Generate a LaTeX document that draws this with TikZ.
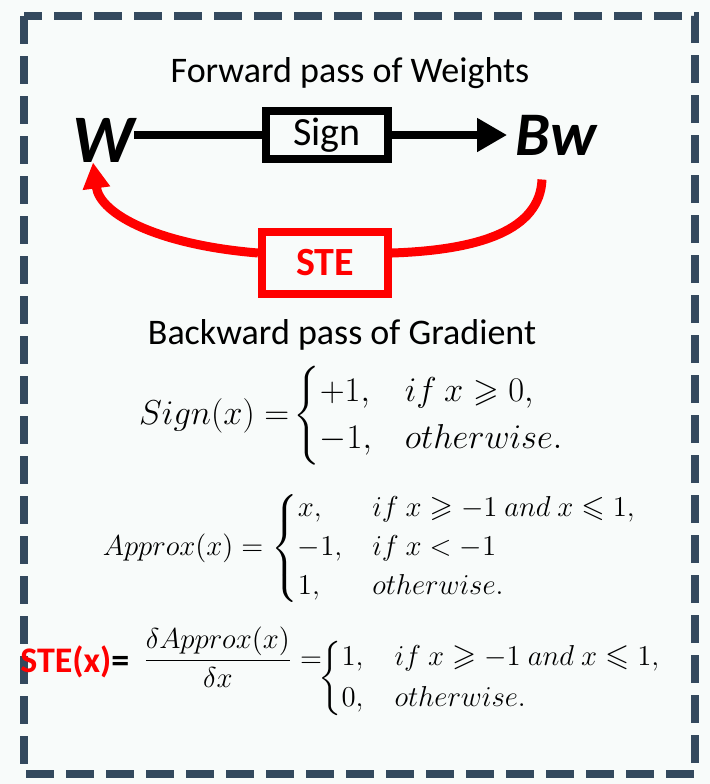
\documentclass[tikz,border=0pt]{standalone}
\usepackage{amsmath,amssymb}
\usepackage{fontspec}
\setmainfont{Carlito}
\usetikzlibrary{arrows.meta}
\definecolor{frameblue}{HTML}{34495E}
\definecolor{stered}{HTML}{FF0000}
\definecolor{paper}{HTML}{F8FBFA}
\tikzset{
  lbl/.style={font=\fontsize{18}{21}\selectfont, inner sep=1pt},
  var/.style={font=\fontsize{34}{36}\selectfont\bfseries\itshape, inner sep=0pt},
  opbox/.style={draw, line width=4pt, minimum width=61pt, minimum height=24pt, inner sep=2pt, font=\fontsize{20}{22}\selectfont},
  eq/.style={inner sep=0pt},
  fwd/.style={line width=4pt},
  bwd/.style={line width=4.5pt, stered}
}
\begin{document}
\begin{tikzpicture}[x=0.5pt,y=-0.5pt]
\fill[paper] (0,0) rectangle (710,784);
\useasboundingbox (0,0) rectangle (710,784);
\draw[frameblue, line width=4pt, dash pattern=on 14pt off 6pt] (24,16) rectangle (695,774);
\node[lbl] (fwdtitle) at (350,73) {Forward pass of Weights};
\node[var] (w) at (103,140) {W};
\node[opbox] (sign) at (327,135) {Sign};
\node[var, font=\fontsize{31}{33}\selectfont\bfseries\itshape] (bw) at (556,135) {Bw};
\node[opbox, stered, font=\fontsize{20}{22}\selectfont\bfseries, minimum width=63pt, minimum height=31pt] (ste) at (325,263) {STE};
\draw[fwd] (w.east |- sign.west) -- (sign.west);
\draw[fwd, -{Triangle[length=15pt,width=16pt]}] (sign.east) -- ([xshift=-4pt]bw.west |- sign.east);
\draw[bwd] ([xshift=-7pt,yshift=-12pt]bw.south) .. controls (540,230) and (480,250) .. ([yshift=5pt]ste.east);
\draw[bwd, -{Triangle[length=13pt,width=13pt]}] ([yshift=5pt]ste.west) .. controls (160,245) and (100,215) .. ([xshift=-5pt]w.south);
\node[lbl] (bwdtitle) at (342,335) {Backward pass of Gradient};
\node[eq, font=\fontsize{16.5}{19.5}\selectfont] (signeq) at (352,416)
  {$Sign(x) =\!\begin{cases} +1, & if\ x \geqslant 0,\\ -1, & otherwise. \end{cases}$};
\node[eq, font=\fontsize{15}{16.2}\selectfont] (approxeq) at (370,548)
  {$Approx(x) = \begin{cases} x, & if\ x \geqslant -1\ and\ x \leqslant 1,\\ -1, & if\ x < -1\\ 1, & otherwise. \end{cases}$};
\node[eq, font=\fontsize{18}{21}\selectfont\bfseries, anchor=west] (stelbl) at (20,662) {\textcolor{stered}{STE(x)}=};
\node[eq, font=\fontsize{15}{16}\selectfont, anchor=west] (stefrac) at (143,657)
  {$\dfrac{\delta Approx(x)}{\delta x} =$};
\node[eq, font=\fontsize{15.5}{17.2}\selectfont, anchor=west] (stecases) at (318,678)
  {$\begin{cases} 1, & if\ x \geqslant -1\ and\ x \leqslant 1,\\ 0, & otherwise. \end{cases}$};
\end{tikzpicture}
\end{document}
